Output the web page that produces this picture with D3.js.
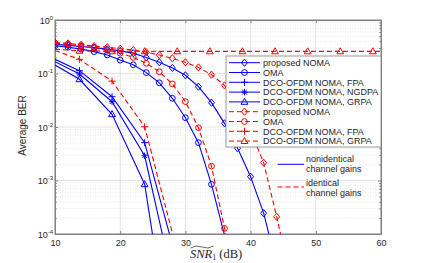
<!DOCTYPE html>
<html>
<head>
<meta charset="utf-8">
<script src="https://cdn.jsdelivr.net/npm/d3@7"></script>
<style>
  body { margin: 0; background: #fff; }
  svg { display: block; }
  text { font-family: "Liberation Sans", Arial, sans-serif; fill: #262626; }
</style>
</head>
<body>
<svg id="chart" width="422" height="263"></svg>
<script>
// ---- data ----
const xTicks = [10, 20, 30, 40, 50, 60];
const yTicks = [1e-4, 1e-3, 1e-2, 1e-1, 1];

const evenSnr = [10, 12, 14, 16, 18, 20, 22, 24, 26, 28, 30, 32, 34, 36, 38, 40, 42, 44, 46];
const dcoSnr = [10, 13.75, 18.75, 23.75, 28.75];
const dcoMarks = [13.75, 18.75, 23.75];
const grpaSnr = [10, 13.75, 18.75, 23.75, 28.75, 33.75, 38.75, 43.75, 48.75, 53.75, 58.75, 60];
const grpaMarks = [13.75, 18.75, 23.75, 28.75, 33.75, 38.75, 43.75, 48.75, 53.75, 58.75];

const bProposed = [0.35, 0.335, 0.32, 0.305, 0.285, 0.265, 0.24, 0.2, 0.162, 0.127, 0.0925, 0.0567, 0.0285, 0.0117, 0.004, 0.00118, 0.000245, 0.000026];
const bOma = [0.33, 0.31, 0.285, 0.256, 0.222, 0.178, 0.146, 0.104, 0.067, 0.0344, 0.0149, 0.0051, 0.00085, 0.000095];
const bFpa = [0.184, 0.113, 0.0368, 0.0051, 0.000029];
const bNgdpa = [0.166, 0.098, 0.0297, 0.0029, 0.0000058];
const bGrpa = [0.144, 0.078, 0.0173, 0.00085, 0.00000011];
const rProposed = [0.38, 0.365, 0.345, 0.325, 0.31, 0.29, 0.275, 0.25, 0.222, 0.192, 0.162, 0.13, 0.095, 0.06, 0.026, 0.0085, 0.00215, 0.00021, 0.0000175];
const rOma = [0.37, 0.35, 0.33, 0.3, 0.27, 0.24, 0.2, 0.155, 0.108, 0.064, 0.0298, 0.0097, 0.00186, 0.000127, 0.0000087];
const rFpa = [0.27, 0.184, 0.072, 0.0101, 0.000047];
const rGrpa = [0.285, 0.265, 0.26, 0.26, 0.259, 0.259, 0.259, 0.259, 0.259, 0.259, 0.259, 0.259];

const BLUE = "#0000ff", RED = "#ff0000";
const series = [
  { name: "proposed NOMA", xs: evenSnr, ys: bProposed, color: BLUE, dash: null, mk: "diamond" },
  { name: "OMA", xs: evenSnr, ys: bOma, color: BLUE, dash: null, mk: "circle" },
  { name: "DCO-OFDM NOMA, FPA", xs: dcoSnr, ys: bFpa, color: BLUE, dash: null, mk: "plus", marks: dcoMarks },
  { name: "DCO-OFDM NOMA, NGDPA", xs: dcoSnr, ys: bNgdpa, color: BLUE, dash: null, mk: "star", marks: dcoMarks },
  { name: "DCO-OFDM NOMA, GRPA", xs: dcoSnr, ys: bGrpa, color: BLUE, dash: null, mk: "triangle", marks: dcoMarks },
  { name: "proposed NOMA", xs: evenSnr, ys: rProposed, color: RED, dash: "5,3", mk: "diamond" },
  { name: "OMA", xs: evenSnr, ys: rOma, color: RED, dash: "5,3", mk: "circle" },
  { name: "DCO-OFDM NOMA, FPA", xs: dcoSnr, ys: rFpa, color: RED, dash: "5,3", mk: "plus", marks: dcoMarks },
  { name: "DCO-OFDM NOMA, GRPA", xs: grpaSnr, ys: rGrpa, color: RED, dash: "5,3", mk: "triangle", marks: grpaMarks }
];

// ---- layout ----
const svg = d3.select("#chart");
const mLeft = 55, mRight = 381, mTop = 20, mBottom = 234;
const x = d3.scaleLinear().domain([10, 60]).range([mLeft, mRight]);
const y = d3.scaleLog().domain([1e-4, 1]).range([mBottom, mTop]);

// grid
const minor = [];
for (let e = -4; e < 0; e++) for (let k = 2; k <= 9; k++) minor.push(k * Math.pow(10, e));
svg.append("g").selectAll("line").data(minor).enter().append("line")
  .attr("x1", mLeft).attr("x2", mRight).attr("y1", d => y(d)).attr("y2", d => y(d))
  .attr("stroke", "#d9d9d9").attr("stroke-width", 0.6).attr("stroke-dasharray", "1,1.5");
svg.append("g").selectAll("line").data(yTicks.slice(1, -1)).enter().append("line")
  .attr("x1", mLeft).attr("x2", mRight).attr("y1", d => y(d)).attr("y2", d => y(d))
  .attr("stroke", "#e3e3e3").attr("stroke-width", 1);
svg.append("g").selectAll("line").data(xTicks.slice(1, -1)).enter().append("line")
  .attr("y1", mTop).attr("y2", mBottom).attr("x1", d => x(d)).attr("x2", d => x(d))
  .attr("stroke", "#e3e3e3").attr("stroke-width", 1);

// axes with inward ticks
const axB = svg.append("g").attr("transform", `translate(0,${mBottom})`)
  .call(d3.axisBottom(x).tickValues(xTicks).tickSize(-3).tickPadding(6));
svg.append("g").attr("transform", `translate(0,${mTop})`)
  .call(d3.axisTop(x).tickValues(xTicks).tickSize(-3).tickFormat(""));
svg.append("g").attr("transform", `translate(${mLeft},0)`)
  .call(d3.axisLeft(y).tickValues(yTicks).tickSize(-3).tickFormat(""));
svg.append("g").attr("transform", `translate(${mRight},0)`)
  .call(d3.axisRight(y).tickValues(yTicks).tickSize(-3).tickFormat(""));
svg.append("g").attr("transform", `translate(${mLeft},0)`)
  .call(d3.axisLeft(y).tickValues(minor).tickSize(-1.8).tickFormat(""));
svg.append("g").attr("transform", `translate(${mRight},0)`)
  .call(d3.axisRight(y).tickValues(minor).tickSize(-1.8).tickFormat(""));
svg.selectAll(".domain").attr("stroke", "#808080");
svg.selectAll(".tick line").attr("stroke", "#808080");
axB.selectAll("text").attr("font-size", 9).style("font-family", "Liberation Sans, Arial, sans-serif").attr("fill", "#262626");

// y tick labels as 10^n
const yl = svg.append("g").selectAll("text").data(yTicks).enter().append("text")
  .attr("x", mLeft - 2).attr("y", d => y(d) + 3.5).attr("text-anchor", "end").attr("font-size", 9);
yl.append("tspan").text("10");
yl.append("tspan").attr("dy", -4).attr("font-size", 6).text(d => Math.round(Math.log10(d)));

// box
svg.append("rect").attr("x", mLeft).attr("y", mTop).attr("width", mRight - mLeft).attr("height", mBottom - mTop)
  .attr("fill", "none").attr("stroke", "#808080").attr("stroke-width", 1);

// markers
function markerPath(type) {
  switch (type) {
    case "diamond": return "M0,-3.6L3,0L0,3.6L-3,0Z";
    case "circle": return d3.symbol(d3.symbolCircle, 26)();
    case "plus": return "M-3.5,0H3.5M0,-3.5V3.5";
    case "star": return "M-3.2,0H3.2M0,-3.2V3.2M-2.3,-2.3L2.3,2.3M-2.3,2.3L2.3,-2.3";
    case "triangle": return "M0,-3.6L3.4,2.4L-3.4,2.4Z";
  }
}

// plot series
svg.append("clipPath").attr("id", "clip").append("rect")
  .attr("x", mLeft).attr("y", mTop).attr("width", mRight - mLeft).attr("height", mBottom - mTop);
const plot = svg.append("g").attr("clip-path", "url(#clip)");
const line = d3.line().x(d => x(d[0])).y(d => y(d[1]));

series.forEach(s => {
  const pts = s.ys.map((v, i) => [s.xs[i], v]);
  plot.append("path").datum(pts).attr("d", line)
    .attr("fill", "none").attr("stroke", s.color).attr("stroke-width", 1.1)
    .attr("stroke-dasharray", s.dash);
  const mpts = pts.filter(p => (s.marks ? s.marks.includes(p[0]) : true) && p[1] >= 1e-4);
  plot.append("g").selectAll("path").data(mpts).enter().append("path")
    .attr("transform", p => `translate(${x(p[0])},${y(p[1])})`)
    .attr("d", markerPath(s.mk)).attr("fill", "none").attr("stroke", s.color).attr("stroke-width", 1);
});

// legend
const lg = svg.append("g");
lg.append("rect").attr("x", 226).attr("y", 56).attr("width", 155).attr("height", 91)
  .attr("fill", "#fff").attr("stroke", "#808080").attr("stroke-width", 0.8);
series.forEach((s, i) => {
  const ry = 62.7 + i * 9.8;
  lg.append("line").attr("x1", 229).attr("x2", 260).attr("y1", ry).attr("y2", ry)
    .attr("stroke", s.color).attr("stroke-width", 1).attr("stroke-dasharray", s.dash);
  lg.append("path").attr("transform", `translate(244.5,${ry})`).attr("d", markerPath(s.mk))
    .attr("fill", "none").attr("stroke", s.color).attr("stroke-width", 1);
  lg.append("text").attr("x", 263).attr("y", ry + 3.2).attr("font-size", 9).text(s.name);
});

// channel gain annotation
const notes = [
  { color: BLUE, dash: null, ly: 164.3, lines: ["nonidentical", "channel gains"], ty: 161.5 },
  { color: RED, dash: "5,3", ly: 187, lines: ["identical", "channel gains"], ty: 185.5 }
];
notes.forEach(n => {
  svg.append("line").attr("x1", 277.5).attr("x2", 304).attr("y1", n.ly).attr("y2", n.ly)
    .attr("stroke", n.color).attr("stroke-width", 1).attr("stroke-dasharray", n.dash);
  n.lines.forEach((t, i) => svg.append("text").attr("x", 306).attr("y", n.ty + i * 10.5)
    .attr("font-size", 9).text(t));
});

// axis labels
svg.append("text").attr("transform", "translate(25.5,125.5) rotate(-90)")
  .attr("text-anchor", "middle").attr("font-size", 10).text("Average BER");

const xl = svg.append("text").attr("x", 190).attr("y", 257.5)
  .style("font-family", "Liberation Serif, Times New Roman, serif").attr("font-size", 12.5);
xl.append("tspan").attr("font-style", "italic").text("SNR");
xl.append("tspan").attr("font-size", 8).attr("dy", 2.5).text("1");
xl.append("tspan").attr("dy", -2.5).text(" (dB)");
svg.append("path").attr("d", "M190.5,248 Q196,244.5 202,247 T213.5,246")
  .attr("fill", "none").attr("stroke", "#262626").attr("stroke-width", 0.7);
</script>
</body>
</html>
